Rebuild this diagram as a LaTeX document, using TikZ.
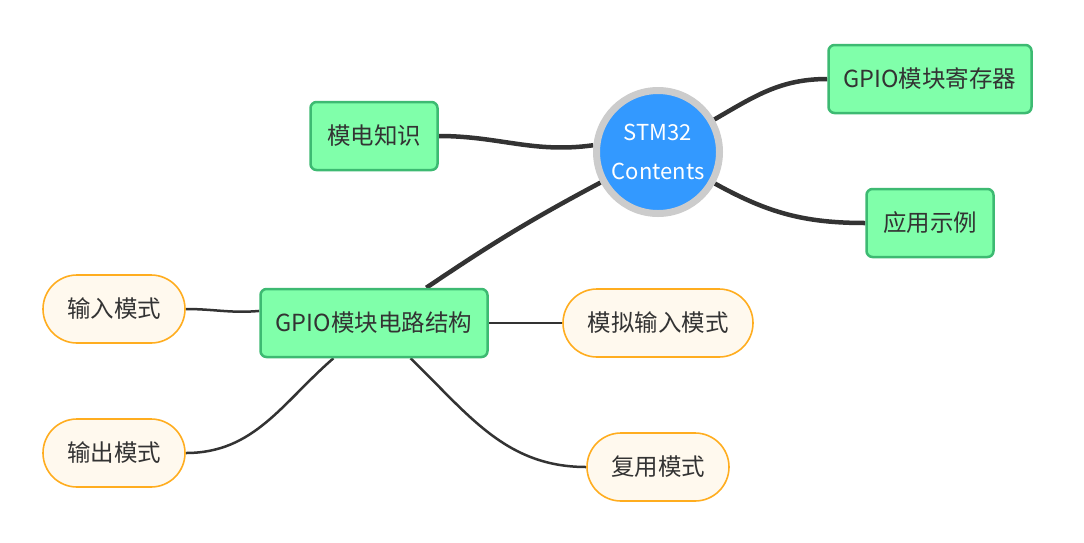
\documentclass[tikz,border=0pt]{standalone}
\usepackage{fontspec}
\setmainfont{Noto Sans CJK SC}
\usetikzlibrary{backgrounds}
\definecolor{boxfill}{HTML}{80FFAA}
\definecolor{boxline}{HTML}{3DBA72}
\definecolor{pillfill}{HTML}{FFF9EE}
\definecolor{pillline}{HTML}{FFAD1F}
\definecolor{hubfill}{HTML}{3399FF}
\definecolor{hubring}{HTML}{CCCCCC}
\definecolor{ink}{HTML}{333333}
\begin{document}
\begin{tikzpicture}[x=1pt,y=-1pt,
  greenbox/.style={draw=boxline,fill=boxfill,line width=2.5pt,rounded corners=6pt,
    minimum height=68pt,inner xsep=10pt,text=ink,font=\fontsize{23.5}{26}\selectfont},
  pillbox/.style={draw=pillline,fill=pillfill,line width=1.6pt,rounded corners=34pt,
    minimum height=68pt,minimum width=142pt,text=ink,font=\fontsize{23.5}{26}\selectfont},
  hub/.style={circle,draw=hubring,fill=hubfill,line width=7pt,minimum size=123pt,
    inner sep=0pt,text=white,align=center,font=\fontsize{22}{39}\selectfont},
  thickline/.style={draw=ink,line width=4.5pt},
  thinline/.style={draw=ink,line width=2.5pt}]
\useasboundingbox (0,0) rectangle (1084,542);

\node[hub] (c) at (658,152) {STM32\\Contents};
\node[greenbox,minimum width=127pt] (mdzs) at (374,136) {模电知识};
\node[greenbox,minimum width=203pt] (reg) at (930,79) {GPIO模块寄存器};
\node[greenbox,minimum width=127pt] (app) at (930,223) {应用示例};
\node[greenbox,minimum width=227pt] (gpio) at (374,323) {GPIO模块电路结构};
\node[pillbox] (in) at (114,309) {输入模式};
\node[pillbox] (out) at (114,453) {输出模式};
\node[pillbox,minimum width=190pt] (ana) at (658,323) {模拟输入模式};
\node[pillbox] (af) at (658,467) {复用模式};

\begin{scope}[on background layer]
\path[thickline] (mdzs.east) to[out=0,in=188] (c.174);
\path[thickline] (c.30) to[out=30,in=180] (reg.west);
\path[thickline] (c.-29) to[out=-29,in=180] (app.west);
\path[thickline] (c.208) to[out=208,in=34] (gpio.34);
\path[thinline] (gpio.174) to[out=185,in=0] (in.east);
\path[thinline] (gpio.221) to[out=221,in=0] (out.east);
\path[thinline] (gpio.east) -- (ana.west);
\path[thinline] (gpio.316) to[out=316,in=180] (af.west);
\end{scope}
\end{tikzpicture}
\end{document}
